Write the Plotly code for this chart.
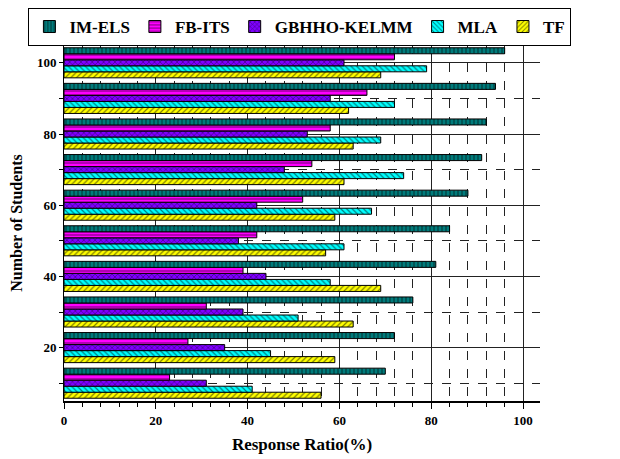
import plotly.graph_objects as go

students = [10, 20, 30, 40, 50, 60, 70, 80, 90, 100]
im_els = [70, 72, 76, 81, 84, 88, 91, 92, 94, 96]
fb_its = [23, 27, 31, 39, 42, 52, 54, 58, 66, 72]
gbhho_kelmm = [31, 35, 39, 44, 38, 42, 48, 53, 58, 61]
mla = [41, 45, 51, 58, 61, 67, 74, 69, 72, 79]
tf = [56, 59, 63, 69, 57, 59, 61, 63, 62, 69]

series = [
    ("IM-ELS", im_els, "#007B7B", "|"),
    ("FB-ITS", fb_its, "#FF00FF", "-"),
    ("GBHHO-KELMM", gbhho_kelmm, "#7F00FF", "x"),
    ("MLA", mla, "#00FFFF", "\\"),
    ("TF", tf, "#FFFF00", "/"),
]

font_family = "Liberation Serif"
fig = go.Figure()
for name, vals, color, shape in reversed(series):
    fig.add_trace(go.Bar(
        y=students, x=vals, name=name, orientation="h",
        marker=dict(color=color, line=dict(color="black", width=1),
                    pattern=dict(shape=shape, fgcolor="black", bgcolor=color,
                                 size=4, solidity=0.3, fillmode="overlay")),
    ))

fig.update_layout(
    width=620, height=459,
    margin=dict(l=56, r=88, t=37, b=66, autoexpand=False),
    paper_bgcolor="white", plot_bgcolor="white",
    barmode="group", bargap=0.155, bargroupgap=0,
    font=dict(family=font_family, size=13, color="black", weight="bold"),
    legend=dict(orientation="h", traceorder="reversed", x=1.066, y=1.104,
                xanchor="right", yanchor="top", bordercolor="black", borderwidth=1,
                font=dict(family=font_family, size=17, weight="bold"),
                itemwidth=30, bgcolor="white"),
    xaxis=dict(range=[0, 103.7], tick0=0, dtick=20, showgrid=True, automargin=False,
               gridcolor="#222222", gridwidth=1, showline=True, linecolor="black",
               linewidth=2, ticks="outside", ticklen=6, tickcolor="black",
               zeroline=False,
               minor=dict(dtick=4, tick0=0, showgrid=True, gridcolor="#222222",
                          griddash="dash", ticks="outside", ticklen=4, tickcolor="black"),
               title=dict(text="Response Ratio(%)", font=dict(size=17, family=font_family, weight="bold"), standoff=12),
               tickfont=dict(size=13, family=font_family, weight="bold")),
    yaxis=dict(range=[5, 105], tick0=0, dtick=20, showgrid=True, automargin=False,
               gridcolor="#222222", gridwidth=1, showline=True, linecolor="black",
               linewidth=1, ticks="outside", ticklen=4, tickcolor="black",
               zeroline=False,
               minor=dict(dtick=10, tick0=0, showgrid=True, gridcolor="#222222",
                          griddash="dash", ticks="outside", ticklen=4, tickcolor="black"),
               title=dict(text="Number of Students", font=dict(size=16, family=font_family, weight="bold"), standoff=10),
               tickfont=dict(size=13, family=font_family, weight="bold")),
)

fig.write_html("out.html")
